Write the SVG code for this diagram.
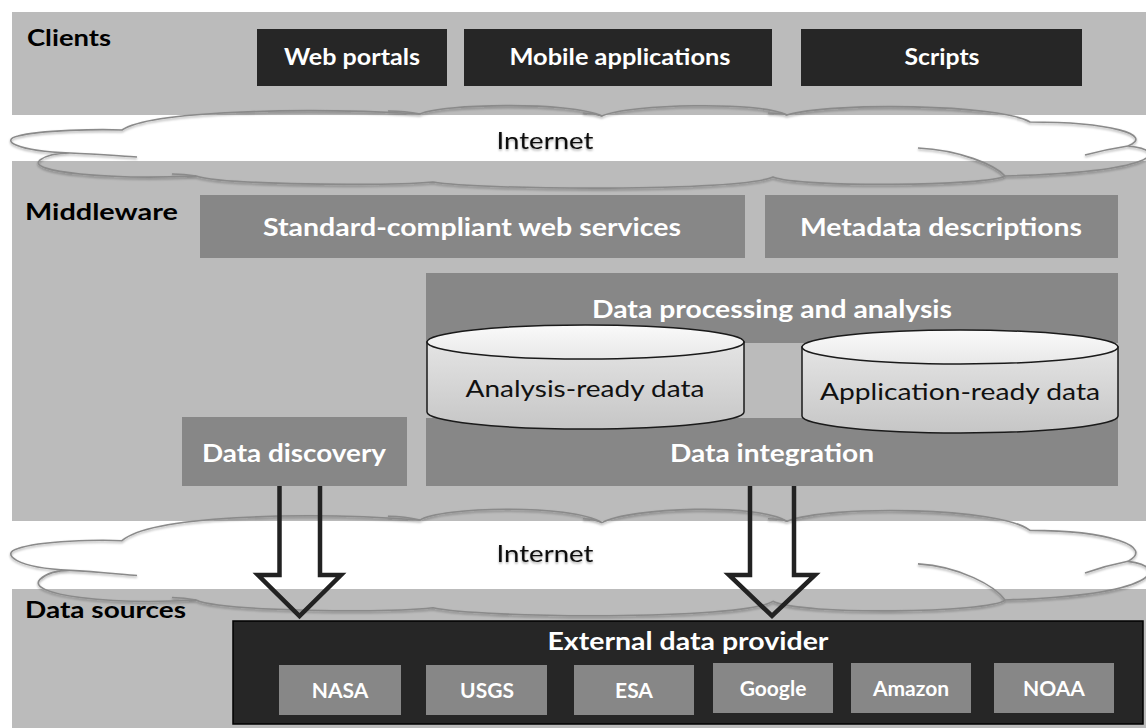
<svg xmlns="http://www.w3.org/2000/svg" width="1146" height="728" viewBox="0 0 1146 728">
<defs>
<style>
.band{fill:#bbbbbb}
.dark{fill:#262626}
.mid{fill:#878787}
.lbl{font-family:Lato,"Liberation Sans",sans-serif;font-weight:bold;fill:#000}
.wt{font-family:Lato,"Liberation Sans",sans-serif;font-weight:bold;fill:#fff;text-anchor:middle}
.reg{font-family:Lato,"Liberation Sans",sans-serif;fill:#111;text-anchor:middle}
.cl{fill:none;stroke:#8a8a8a;stroke-width:1.6}
.cyl{stroke:#1a1a1a;stroke-width:1.5}
.arr{fill:none;stroke:#222;stroke-width:4.5;stroke-linejoin:miter}
</style>
<linearGradient id="gBody" x1="0" y1="0" x2="0" y2="1">
<stop offset="0" stop-color="#e4e4e4"/>
<stop offset="1" stop-color="#c6c6c6"/>
</linearGradient>
<linearGradient id="gTop" x1="0" y1="0" x2="0" y2="1">
<stop offset="0" stop-color="#fafafa"/>
<stop offset="1" stop-color="#e8e8e8"/>
</linearGradient>
<filter id="sh" x="-5%" y="-20%" width="110%" height="140%">
<feDropShadow dx="0" dy="1.5" stdDeviation="1" flood-color="#000" flood-opacity="0.35"/>
</filter>
<g id="cloudShape">
<path class="cl" vector-effect="non-scaling-stroke" d="M 122,130 C 150,111 300,107 420,114 C 440,104 570,101 602,116 C 630,104 760,101 787,115 C 830,102 1000,104 1030,122 C 1110,122 1155,135 1128,146 C 1170,150 1160,172 1005,176 C 990,186 800,188 773,177 C 740,192 480,190 433,182 C 390,186 220,185 196,176 C 110,180 25,172 40,160 C 48,154 60,153 70,153 C 15,151 0,140 18,136 C 40,130 100,129 122,130 Z"/>
<path class="cl" vector-effect="non-scaling-stroke" d="M 70,153 C 95,154 120,156 137,157 M 1128,146 C 1115,148 1100,151 1085,155 M 1005,176 C 995,165 960,150 918,148 M 196,176 C 190,175 180,174 172,174 M 420,114 C 410,112 398,111 388,111 M 602,116 C 596,114 590,113 583,113 M 787,115 C 781,113 775,113 768,113"/>
</g>
</defs>

<rect width="1146" height="728" fill="#fff"/>

<g id="bands">
<rect class="band" x="12" y="12" width="1134" height="103"/>
<rect class="band" x="12" y="161" width="1134" height="360"/>
<rect class="band" x="12" y="589" width="1134" height="139"/>
</g>

<g id="cloud-top" filter="url(#sh)">
<use href="#cloudShape"/>
<text class="reg" x="545" y="149" font-size="24" textLength="97" lengthAdjust="spacingAndGlyphs">Internet</text>
</g>
<g id="cloud-bottom" filter="url(#sh)">
<use href="#cloudShape" transform="translate(0,373) scale(1,1.29)"/>
<text class="reg" x="545" y="562" font-size="24" textLength="97" lengthAdjust="spacingAndGlyphs">Internet</text>
</g>

<g id="clients">
<text class="lbl" x="27" y="46" font-size="23" textLength="84" lengthAdjust="spacingAndGlyphs">Clients</text>
</g>
<g id="web-portals">
<rect class="dark" x="257" y="29" width="190" height="57"/>
<text class="wt" x="352" y="65" font-size="22" textLength="136" lengthAdjust="spacingAndGlyphs">Web portals</text>
</g>
<g id="mobile-applications">
<rect class="dark" x="464" y="29" width="308" height="57"/>
<text class="wt" x="620" y="65" font-size="22" textLength="221" lengthAdjust="spacingAndGlyphs">Mobile applications</text>
</g>
<g id="scripts">
<rect class="dark" x="801" y="29" width="281" height="57"/>
<text class="wt" x="942" y="65" font-size="22" textLength="75" lengthAdjust="spacingAndGlyphs">Scripts</text>
</g>

<g id="middleware">
<text class="lbl" x="25" y="220" font-size="23" textLength="153" lengthAdjust="spacingAndGlyphs">Middleware</text>
</g>
<g id="web-services">
<rect class="mid" x="200" y="195" width="545" height="63"/>
<text class="wt" x="472" y="236" font-size="25" textLength="418" lengthAdjust="spacingAndGlyphs">Standard-compliant web services</text>
</g>
<g id="metadata">
<rect class="mid" x="765" y="195" width="353" height="63"/>
<text class="wt" x="941" y="236" font-size="25" textLength="282" lengthAdjust="spacingAndGlyphs">Metadata descriptions</text>
</g>
<g id="data-processing">
<rect class="mid" x="426" y="273" width="692" height="70"/>
<text class="wt" x="772" y="318" font-size="25" textLength="360" lengthAdjust="spacingAndGlyphs">Data processing and analysis</text>
</g>
<g id="data-integration">
<rect class="mid" x="426" y="418" width="692" height="68"/>
<text class="wt" x="772" y="462" font-size="25" textLength="204" lengthAdjust="spacingAndGlyphs">Data integration</text>
</g>
<g id="analysis-ready">
<path class="cyl" fill="url(#gBody)" d="M 427,342 V 412 A 158.5,17 0 0 0 744,412 V 342 Z"/>
<ellipse class="cyl" fill="url(#gTop)" cx="585.5" cy="342" rx="158.5" ry="17"/>
<text class="reg" x="585" y="397" font-size="24" textLength="239" lengthAdjust="spacingAndGlyphs">Analysis-ready data</text>
</g>
<g id="application-ready">
<path class="cyl" fill="url(#gBody)" d="M 802,347 V 416 A 158,17 0 0 0 1118,416 V 347 Z"/>
<ellipse class="cyl" fill="url(#gTop)" cx="960" cy="347" rx="158" ry="17"/>
<text class="reg" x="960" y="400" font-size="24" textLength="280" lengthAdjust="spacingAndGlyphs">Application-ready data</text>
</g>
<g id="data-discovery">
<rect class="mid" x="182" y="417" width="225" height="69"/>
<text class="wt" x="294" y="462" font-size="25" textLength="184" lengthAdjust="spacingAndGlyphs">Data discovery</text>
</g>

<g id="data-sources">
<text class="lbl" x="25" y="618" font-size="23" textLength="161" lengthAdjust="spacingAndGlyphs">Data sources</text>
</g>
<g id="external-provider">
<rect x="233" y="621" width="910" height="103" fill="#262626" stroke="#000" stroke-width="1.5"/>
<text class="wt" x="688" y="650" font-size="25" textLength="281" lengthAdjust="spacingAndGlyphs">External data provider</text>
</g>
<g id="nasa"><rect class="mid" x="279" y="665" width="122" height="50"/><text class="wt" x="340" y="698" font-size="21">NASA</text></g>
<g id="usgs"><rect class="mid" x="426" y="665" width="121" height="50"/><text class="wt" x="487" y="698" font-size="21">USGS</text></g>
<g id="esa"><rect class="mid" x="574" y="665" width="120" height="50"/><text class="wt" x="634" y="698" font-size="21">ESA</text></g>
<g id="google"><rect class="mid" x="713" y="663" width="120" height="50"/><text class="wt" x="773" y="696" font-size="21">Google</text></g>
<g id="amazon"><rect class="mid" x="851" y="663" width="120" height="50"/><text class="wt" x="911" y="696" font-size="21">Amazon</text></g>
<g id="noaa"><rect class="mid" x="994" y="663" width="120" height="50"/><text class="wt" x="1054" y="696" font-size="21">NOAA</text></g>

<g id="connectors">
<path class="arr" d="M 279.5,486 V 575 H 258 L 299.5,616 L 341,575 H 320 V 486"/>
<path class="arr" d="M 750,486 V 575 H 729 L 772,616 L 815,575 H 794 V 486"/>
</g>
</svg>
